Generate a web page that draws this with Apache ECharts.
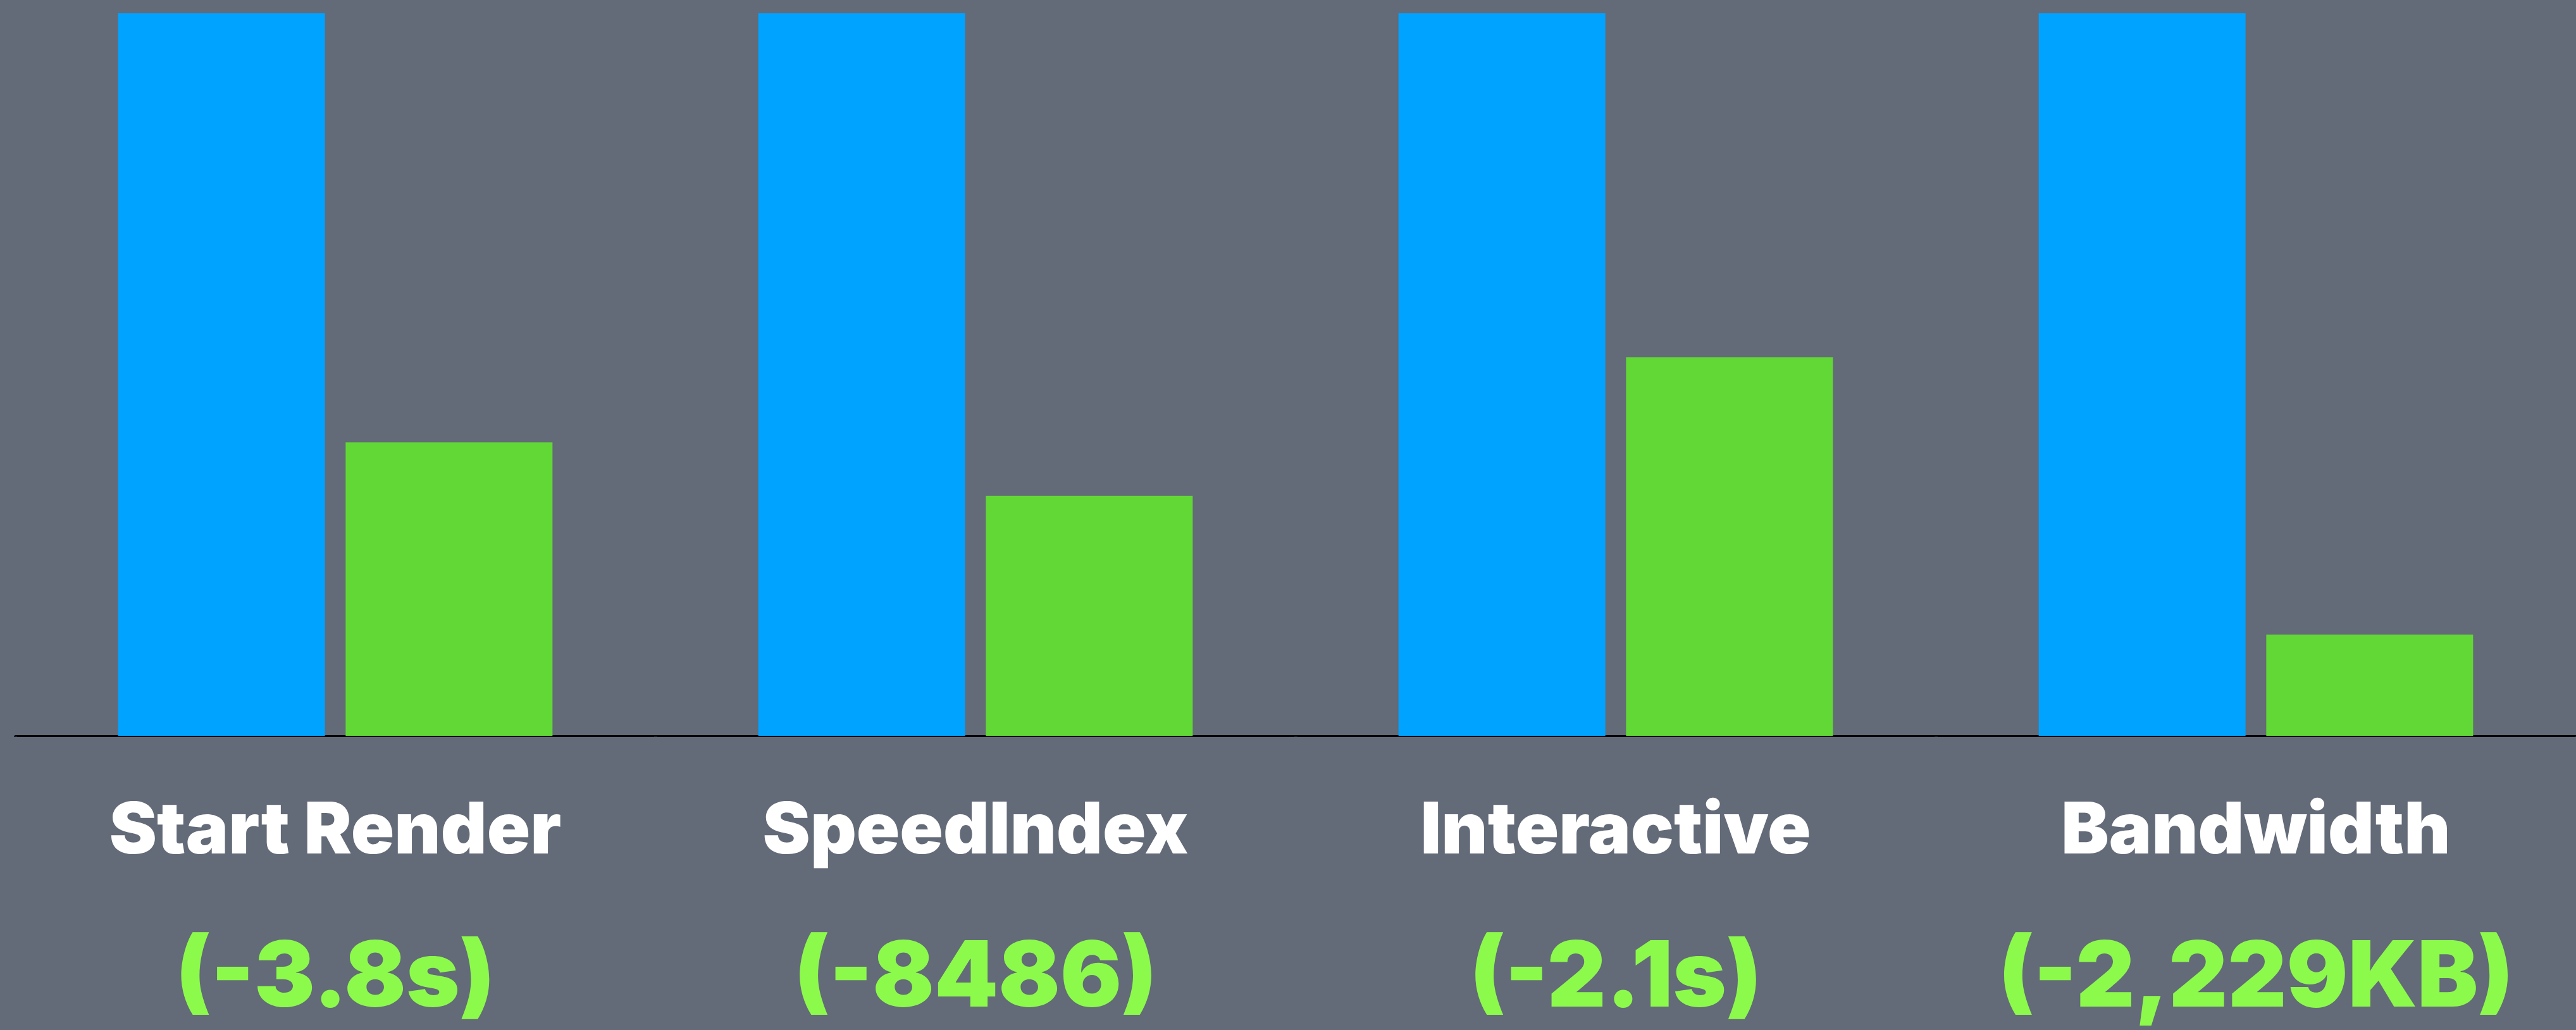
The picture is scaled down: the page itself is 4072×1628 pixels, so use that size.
<!DOCTYPE html>
<html>
<head>
<meta charset="utf-8">
<script src="https://cdn.jsdelivr.net/npm/echarts@6/dist/echarts.min.js"></script>
<style>
  html, body { margin: 0; padding: 0; background: #636a78; }
  #chart { width: 4072px; height: 1628px; }
</style>
</head>
<body>
<div id="chart"></div>
<script>
// metric names and savings shown under each group
var categories = ["Start Render", "SpeedIndex", "Interactive", "Bandwidth"];
var savings = ["(-3.8s)", "(-8486)", "(-2.1s)", "(-2,229KB)"];
// values normalised to the "before" bar (= 100)
var beforeValues = [100, 100, 100, 100];
var afterValues = [40.6, 33.2, 52.4, 14.0];

var chart = echarts.init(document.getElementById("chart"));

var option = {
  backgroundColor: "#636a78",
  animation: false,
  grid: {
    left: 24,
    right: 0,
    top: 21,
    bottom: 465
  },
  xAxis: {
    type: "category",
    data: categories,
    axisLine: {
      lineStyle: { color: "#000", width: 3 }
    },
    axisTick: {
      show: true,
      length: 2,
      lineStyle: { color: "#1a1c22", width: 5 }
    },
    axisLabel: {
      margin: 52,
      interval: 0,
      formatter: function (value, idx) {
        return "{a|" + value + "}\n{b|" + savings[idx] + "}";
      },
      rich: {
        a: {
          fontFamily: "Inter",
          fontWeight: 900,
          fontSize: 113,
          color: "#ffffff",
          lineHeight: 200
        },
        b: {
          fontFamily: "Inter",
          fontWeight: 900,
          fontSize: 144,
          color: "#8cfa4b",
          lineHeight: 266
        }
      }
    }
  },
  yAxis: {
    type: "value",
    min: 0,
    max: 100,
    show: false,
    splitLine: { show: false }
  },
  series: [
    {
      name: "before",
      type: "bar",
      data: beforeValues,
      barWidth: 327,
      barGap: "10%",
      itemStyle: { color: "#00a3ff" }
    },
    {
      name: "after",
      type: "bar",
      data: afterValues,
      barWidth: 327,
      itemStyle: { color: "#62d836" }
    }
  ]
};

chart.setOption(option);
</script>
</body>
</html>
